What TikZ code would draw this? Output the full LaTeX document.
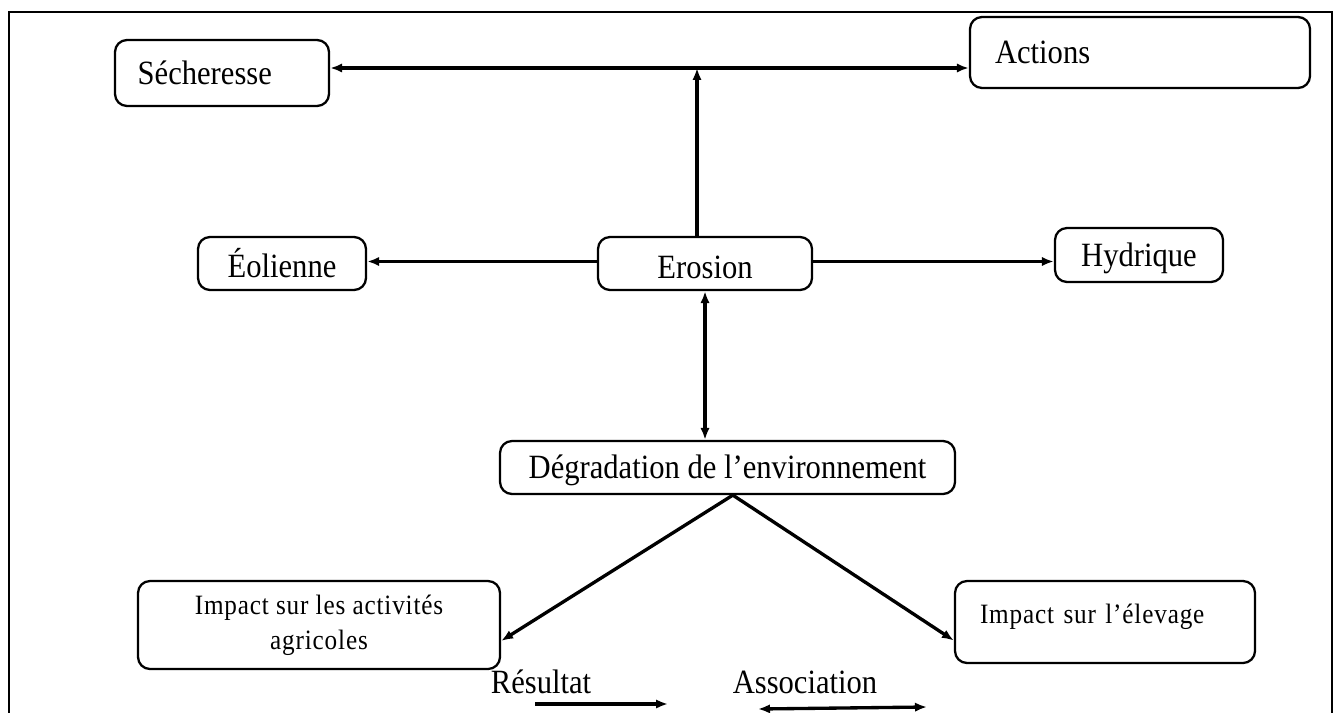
\documentclass[tikz,border=0pt]{standalone}
\usepackage{fontspec}
\setmainfont{Liberation Serif}[FakeStretch=0.9]
\usetikzlibrary{arrows.meta}

\newcommand{\bigtxt}{\fontsize{25.5}{29}\selectfont}
\newcommand{\smalltxt}{\fontsize{21}{26}\selectfont\addfontfeature{LetterSpace=3}}

\tikzset{every picture/.style={line width=0.75pt}}
\tikzset{
  box/.style={draw, rounded corners=9pt, line width=1.7pt, font=\bigtxt, inner sep=0pt},
  arr/.style={-{Latex[length=9pt,width=7pt]}, line width=2.5pt},
  darr/.style={{Latex[length=9pt,width=7pt]}-{Latex[length=9pt,width=7pt]}, line width=2.5pt}
}

\begin{document}
\begin{tikzpicture}[x=0.75pt,y=0.75pt,yscale=-1,xscale=1]
\path[use as bounding box] (0,0) rectangle (1337,713);

%Frame, open at the bottom
\draw [line width=2pt] (9,713) -- (9,12) -- (1332,12) -- (1332,713);

% Boxes
\node [box, minimum width=160.5pt, minimum height=49.5pt, text width=126.5pt, align=left] (sech) at (222,73) {Sécheresse};
\node [box, minimum width=255pt, minimum height=53.25pt, text width=217.5pt, align=left] (act) at (1140,52.5) {Actions};
\node [box, minimum width=160.5pt, minimum height=39.75pt, text height=22pt] (ero) at (705,263.5) {Erosion};
\node [box, minimum width=126pt, minimum height=39.75pt, text height=21pt] (eol) at (282,263.5) {Éolienne};
\node [box, minimum width=126pt, minimum height=40.5pt, text height=22pt] (hyd) at (1139,255) {Hydrique};
\node [box, minimum width=341.25pt, minimum height=39.75pt, text height=22pt] (deg) at (727.5,467.5) {Dégradation de l’environnement};
\node [box, minimum width=271.5pt, minimum height=66pt, font=\smalltxt, align=center] (agr) at (319,625) {Impact sur les activités\\agricoles};
\node [box, minimum width=225pt, minimum height=61.5pt, font=\smalltxt, text width=187.5pt, align=left, text depth=12pt] (ele) at (1105,622) {Impact sur l’élevage};

% Junction on the top line
\coordinate (jn) at (697,68);

% Connectors
\draw [darr] (sech.east |- jn) -- (act.west |- jn);
\draw [arr] (jn |- ero.north) -- (jn);
\draw [arr] ([yshift=-1.5pt]ero.west) -- ([yshift=-1.5pt]ero.west -| eol.east);
\draw [arr] ([yshift=-1.5pt]ero.east) -- ([yshift=-1.5pt]ero.east -| hyd.west);
\draw [darr] (ero.south) -- (ero.south |- deg.north);
\draw [arr] ([xshift=4pt]deg.south) -- (agr.-5);
\draw [arr] ([xshift=4pt]deg.south) -- (ele.187);

% Legend
\node [font=\bigtxt, inner sep=0pt] (res) at (541,682) {Résultat};
\node [font=\bigtxt, inner sep=0pt] (asso) at (805,682) {Association};
\coordinate (r1) at (535,704);
\coordinate (r2) at (668,704);
\coordinate (a1) at (758,709);
\coordinate (a2) at (927,707);
\draw [arr] (r1) -- (r2);
\draw [darr] (a1) -- (a2);

\end{tikzpicture}
\end{document}
